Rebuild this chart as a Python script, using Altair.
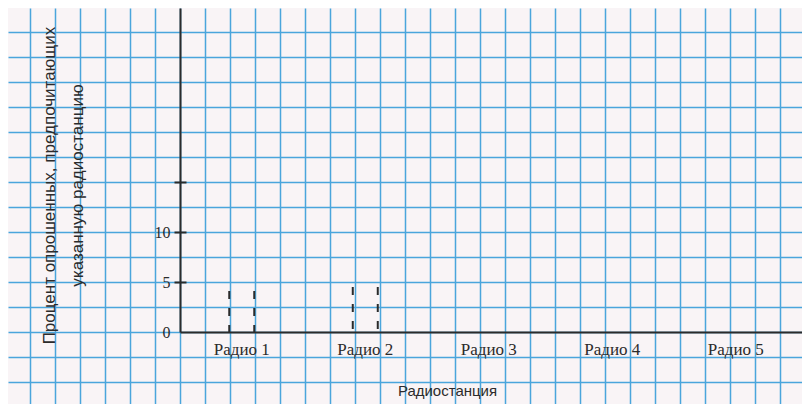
import altair as alt
import pandas as pd

# ---- data ----
stations = ["Радио 1", "Радио 2", "Радио 3", "Радио 4", "Радио 5"]
percent = [4.1, 4.5, None, None, None]

y_ticks = [0, 5, 10, 15]
y_title = ["Процент опрошенных, предпочитающих", "указанную радиостанцию"]
x_title = "Радиостанция"

df = pd.DataFrame({"station": stations, "percent": percent})
grid_df = pd.DataFrame({"gx": [0.0], "gy": [0.0]})

# ---- style ----
W, H = 794, 396
INK = "#2b2b2b"
GRID = "#4aa5dc"
PAPER = "#f9f4f6"

x_cells = list(range(-6, 25))
y_cells = [2.5 * k for k in range(-2, 13)]

grid_axis = dict(grid=True, labels=False, ticks=False, domain=False, title=None,
                 gridColor=GRID, gridWidth=1.5, gridOpacity=1)

grid = alt.Chart(grid_df).mark_point(opacity=0).encode(
    x=alt.X("gx:Q", scale=alt.Scale(domain=[-6.88, 24.88], nice=False, zero=False),
            axis=alt.Axis(orient="top", values=x_cells, **grid_axis)),
    y=alt.Y("gy:Q", scale=alt.Scale(domain=[-7.2, 32.4], nice=False, zero=False),
            axis=alt.Axis(orient="right", values=y_cells, **grid_axis)),
)

def xscale():
    return alt.Scale(domain=stations, range=[172, 794], paddingInner=0,
                     paddingOuter=0.018, align=0)

def yscale():
    return alt.Scale(domain=[0, 32.4], range=[324, 0], nice=False, zero=False)

rule_style = dict(strokeDash=[8, 9], strokeWidth=2, color=INK)

left = alt.Chart(df).transform_filter("isValid(datum.percent)").mark_rule(
    xOffset=-12.5, **rule_style
).encode(
    x=alt.X("station:N", scale=xscale(),
            axis=alt.Axis(orient="bottom", offset=-72, domain=True, domainColor=INK,
                          domainWidth=2, ticks=False, tickSize=0, labelPadding=9,
                          labelFont="Liberation Serif", labelFontSize=17,
                          labelColor=INK, labelAngle=0, grid=False,
                          title=x_title, titleFont="Liberation Sans",
                          titleFontSize=15, titleFontWeight="normal",
                          titleColor=INK, titleX=439, titleY=58,
                          titleBaseline="middle", titleAlign="center")),
    y=alt.Y("percent:Q", scale=yscale(),
            axis=alt.Axis(orient="left", offset=-172, values=y_ticks,
                          labelExpr="datum.value == 15 ? '' : datum.label",
                          domain=True, domainColor=INK, domainWidth=2,
                          ticks=True, tickSize=6, tickWidth=2, tickColor=INK,
                          tickOpacity={"condition": {"test": "datum.value === 0", "value": 0}, "value": 1},
                          labelPadding=4, labelFont="Liberation Serif",
                          labelFontSize=16, labelColor=INK, grid=False,
                          title=y_title, titleFont="Liberation Sans",
                          titleFontSize=17, titleFontWeight="normal",
                          titleColor=INK, titleLineHeight=28, titleAngle=270,
                          titleX=-126, titleY=177, titleAlign="center",
                          titleBaseline="alphabetic")),
    y2=alt.datum(0),
)

right = alt.Chart(df).transform_filter("isValid(datum.percent)").mark_rule(
    xOffset=12.5, **rule_style
).encode(
    x=alt.X("station:N", scale=xscale(), axis=None),
    y=alt.Y("percent:Q", scale=yscale(),
            axis=alt.Axis(orient="right", offset=-622, values=[5, 10, 15],
                          labels=False, domain=False, ticks=True, tickSize=6,
                          tickWidth=2, tickColor=INK, grid=False, title=None)),
    y2=alt.datum(0),
)

chart = alt.layer(grid, left, right).resolve_scale(
    x="independent", y="independent"
).properties(
    width=W, height=H, padding=0,
    autosize=alt.AutoSizeParams(type="none"),
    background=PAPER,
).configure_view(stroke=None)

chart.save("out.html", embed_options={"renderer": "svg", "actions": False})
